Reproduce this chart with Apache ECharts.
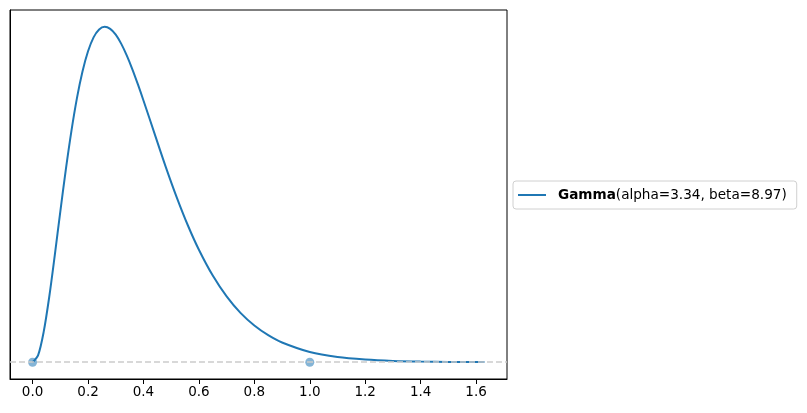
<!DOCTYPE html>
<html>
<head>
<meta charset="utf-8">
<script src="https://cdn.jsdelivr.net/npm/echarts@6/dist/echarts.min.js"></script>
<style>html,body{margin:0;padding:0;background:#fff;}#c{width:807px;height:413px;}</style>
</head>
<body>
<div id="c"></div>
<script>
// curve values
const curveX = [0, 0.02, 0.04, 0.06, 0.08, 0.10, 0.12, 0.14, 0.16, 0.18, 0.20, 0.22, 0.24, 0.26, 0.28, 0.30, 0.32, 0.34, 0.36, 0.38, 0.40, 0.44, 0.48, 0.52, 0.56, 0.60, 0.65, 0.70, 0.75, 0.80, 0.85, 0.90, 1.00, 1.10, 1.20, 1.30, 1.40, 1.50, 1.63];
const curveY = [0, 0.048, 0.204, 0.439, 0.720, 1.014, 1.298, 1.556, 1.778, 1.957, 2.093, 2.187, 2.240, 2.258, 2.244, 2.205, 2.143, 2.064, 1.972, 1.870, 1.762, 1.539, 1.317, 1.110, 0.922, 0.757, 0.583, 0.443, 0.332, 0.247, 0.182, 0.133, 0.069, 0.035, 0.018, 0.0087, 0.0042, 0.0020, 0.0008];
const pointX = [0, 1];
const pointY = [0, 0];
const xTicks = [0, 0.2, 0.4, 0.6, 0.8, 1.0, 1.2, 1.4, 1.6];
const seriesName = 'Gamma';
const paramText = '(alpha=3.34, beta=8.97)';

const chart = echarts.init(document.getElementById('c'), null, {renderer: 'canvas'});
const font = 'DejaVu Sans';
chart.setOption({
  animation: false,
  backgroundColor: '#fff',
  grid: {left: 10, top: 10, right: 300, bottom: 34, show: true, borderColor: '#000', borderWidth: 1, containLabel: false},
  xAxis: {
    type: 'value', min: -0.0815, max: 1.7115,
    axisLine: {show: true, onZero: false, lineStyle: {color: '#000', width: 1}},
    axisTick: {show: true, customValues: xTicks, length: 5, lineStyle: {color: '#000', width: 1}},
    axisLabel: {show: true, customValues: xTicks, margin: 6, color: '#000', fontFamily: font, fontSize: 13.5,
      formatter: v => v.toFixed(1)},
    splitLine: {show: false}
  },
  yAxis: {
    type: 'value', min: -0.113, max: 2.371,
    axisLine: {show: true, onZero: false, lineStyle: {color: '#000', width: 1}},
    axisTick: {show: false}, axisLabel: {show: false}, splitLine: {show: false}
  },
  legend: {
    show: true, left: 513, top: 181, orient: 'vertical',
    data: [{name: seriesName, icon: 'path://M0,0H28V2H0Z', itemStyle: {color: '#1f77b4'}}],
    padding: [7, 10, 7, 5],
    itemWidth: 28, itemHeight: 14,
    borderColor: '#d0d0d0', borderWidth: 1, borderRadius: 3,
    backgroundColor: 'rgba(255,255,255,0.8)',
    formatter: n => '{b|' + n + '}{n|' + paramText + '}',
    textStyle: {
      padding: [0, 0, 0, 7],
      rich: {
        b: {fontFamily: font, fontSize: 13.6, fontWeight: 'bold', color: '#000'},
        n: {fontFamily: font, fontSize: 13.6, color: '#000'}
      }
    }
  },
  series: [
    {
      type: 'scatter', name: 'pts', symbolSize: 9,
      itemStyle: {color: '#1f77b4', opacity: 0.55},
      data: pointX.map((x, i) => [x, pointY[i]]),
      z: 1,
      markLine: {
        silent: true, symbol: ['none', 'none'], label: {show: false},
        lineStyle: {color: '#cccccc', type: [6, 3], width: 1.6, opacity: 1},
        data: [{yAxis: 0}]
      }
    },
    {
      type: 'line', name: seriesName, smooth: 0.3, showSymbol: false, symbol: 'none',
      lineStyle: {color: '#1f77b4', width: 2}, itemStyle: {color: '#1f77b4'},
      data: curveX.map((x, i) => [x, curveY[i]]),
      z: 3
    }
  ]
});
</script>
</body>
</html>
